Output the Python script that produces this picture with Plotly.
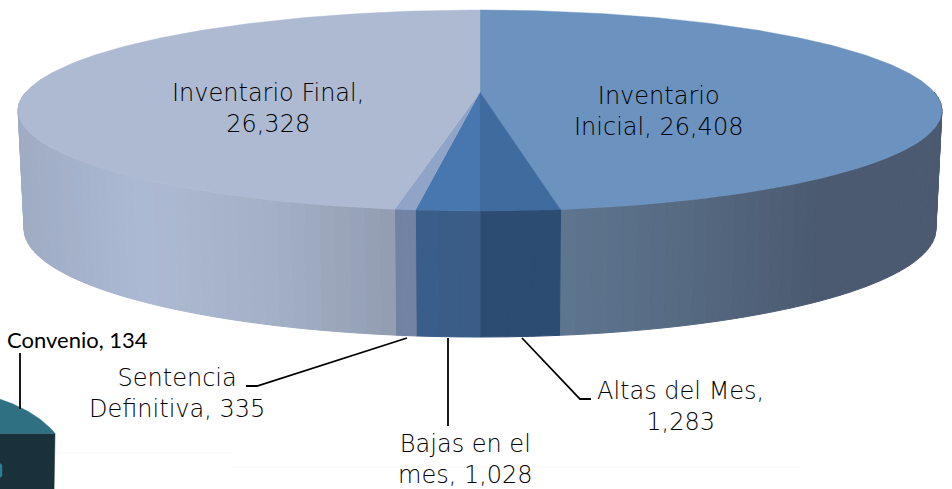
import numpy as np
import plotly.graph_objects as go

categories = ["Inventario Inicial", "Altas del Mes", "Bajas en el mes", "Sentencia Definitiva", "Inventario Final"]
values = [26408, 1283, 1028, 335, 26328]
top_colors = ["#6C93BF", "#3F6B9F", "#4877AF", "#8FA4C6", "#ADBAD2"]
# side shading, colours running left to right across each slice's visible wall
side_stops = [
    ["#5F7690", "#566A82", "#4B5B72", "#4B5A70"],
    ["#2D4C72", "#2D4C72"],
    ["#3A5F8C", "#3A5C85"],
    ["#7283A3", "#7283A3"],
    ["#9FACC4", "#ADBAD4", "#A5B1C6", "#929DB2"],
]
convenio_value = 134

K = 0.184
CX = 480.0


def top_xy(t):
    w = 1 - K * (-np.cos(t))
    return CX + 454 * np.sin(t) / w, 92 + 97.1 * (-np.cos(t)) / w


def bot_xy(t):
    w = 1 - K * (-np.cos(t))
    return CX + 0.987 * 454 * np.sin(t) / w, 209.2 + 104.3 * (-np.cos(t)) / w


def hex2rgb(h):
    return np.array([int(h[i:i + 2], 16) for i in (1, 3, 5)], float)


def ramp(stops, f):
    p = f * (len(stops) - 1)
    i = min(int(p), len(stops) - 2)
    c = hex2rgb(stops[i]) * (1 - (p - i)) + hex2rgb(stops[i + 1]) * (p - i)
    return "rgb(%d,%d,%d)" % tuple(c)


total = sum(values)
edges = np.cumsum([0] + values) / total * 2 * np.pi

fig = go.Figure()


def poly(x, y, color, lw=1.0):
    fig.add_trace(go.Scatter(x=x, y=y, mode="lines", fill="toself", fillcolor=color,
                             line=dict(color=color, width=lw), hoverinfo="skip", showlegend=False))


# side walls
for i, (a, b) in enumerate(zip(edges[:-1], edges[1:])):
    lo = max(a, np.pi / 2)
    hi = min(b, 3 * np.pi / 2)
    if hi <= lo:
        continue
    n = 50 if hi - lo > 0.5 else 3
    grid = np.linspace(lo, hi, n + 1)
    xs = top_xy(grid)[0]
    x0, x1 = xs.min(), xs.max()
    for p, q in zip(grid[:-1], grid[1:]):
        tt = np.array([p, q])
        tx, ty = top_xy(tt)
        bx, by = bot_xy(tt)
        f = ((tx[0] + tx[1]) / 2 - x0) / (x1 - x0)
        poly([tx[0], tx[1], bx[1], bx[0], tx[0]], [ty[0], ty[1], by[1], by[0], ty[0]], ramp(side_stops[i], f))

# top faces
for i, (a, b) in enumerate(zip(edges[:-1], edges[1:])):
    t = np.linspace(a, b, max(6, int((b - a) * 80)))
    x, y = top_xy(t)
    poly(np.r_[CX, x, CX], np.r_[92, y, 92], top_colors[i], lw=0.4)

# second pie: Convenio, cut off by the picture edge
ct = np.linspace(-2, 55, 40)
arc_y = 471 - 81 * np.sqrt(1 - ((ct + 60) / 130) ** 2)
poly([-2, 55, 54, -2], [433.5, 433.5, 492, 492], "#1A303B", lw=0.5)
poly(np.r_[ct, 55, -2], np.r_[arc_y, 433.5, 433.5], "#2F7082", lw=0.5)
poly([-2, 2, 2, -2], [462, 465, 476, 479], "#2F7F92", lw=0.5)

# faint scan traces below the chart
for x, y in [([57, 233], [453, 453]), ([233, 800], [467, 467])]:
    fig.add_trace(go.Scatter(x=x, y=y, mode="lines", line=dict(color="#F7F7F7", width=1),
                             hoverinfo="skip", showlegend=False))

# leader lines
leaders = [
    ([522, 580, 591], [338, 399, 399]),
    ([448, 448], [338, 426]),
    ([407, 257, 246], [338, 386, 386]),
    ([20, 20], [353, 409]),
]
for x, y in leaders:
    fig.add_trace(go.Scatter(x=x, y=y, mode="lines", line=dict(color="#000000", width=1.8),
                             hoverinfo="skip", showlegend=False))

FONT = "DejaVu Sans"
labels = [
    (268, 108, "Inventario Final,<br>%s" % format(values[4], ",")),
    (658, 111, "Inventario<br>Inicial, %s" % format(values[0], ",")),
    (177, 393, "Sentencia<br>Definitiva, %s" % format(values[3], ",")),
    (680, 406, "Altas del Mes,<br>%s" % format(values[1], ",")),
    (465, 459, "Bajas en el<br>mes, %s" % format(values[2], ",")),
]
for x, y, s in labels:
    fig.add_annotation(x=x, y=y, xref="x", yref="y", text=s, showarrow=False, align="center",
                       font=dict(family=FONT, size=24, color="#000000", weight=200))
fig.add_annotation(x=77, y=339, xref="x", yref="y", text="Convenio, %d" % convenio_value, showarrow=False,
                   font=dict(family="Lato", size=22, color="#000000"))

fig.update_layout(width=952, height=489, margin=dict(l=0, r=0, t=0, b=0),
                  paper_bgcolor="white", plot_bgcolor="white", showlegend=False,
                  xaxis=dict(range=[0, 952], visible=False, fixedrange=True),
                  yaxis=dict(range=[489, 0], visible=False, fixedrange=True))
fig.write_html("out.html", config={"displayModeBar": False},
               post_script="document.body.style.margin='0';document.documentElement.style.overflow='hidden';")
